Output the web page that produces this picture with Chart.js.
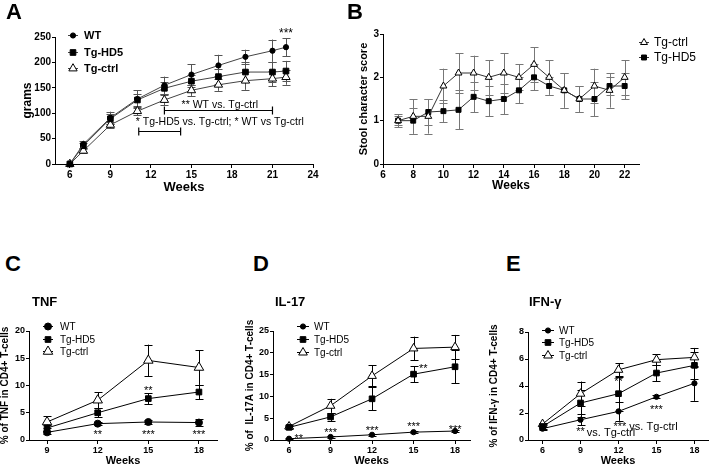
<!DOCTYPE html>
<html lang="en">
<head>
<meta charset="UTF-8" />
<title>Body weight, stool score and cytokines</title>
<script src="https://cdn.jsdelivr.net/npm/chart.js"></script>
<style>
  body { margin: 0; background: #fff; }
  #page { position: relative; width: 714px; height: 465px; overflow: hidden;
          font-family: 'Liberation Sans Narrow', 'Liberation Sans', Arial, sans-serif; }
  #page canvas { position: absolute; }
  .tag { position: absolute; font-weight: bold; line-height: 1; color: #000; white-space: nowrap; }
  .letter { font-size: 22px; }
  .name { font-size: 13px; }
</style>
</head>
<body>
<div id="page">
  <canvas id="chartA" width="360" height="200" style="left:0;top:0"></canvas>
  <canvas id="chartB" width="358" height="200" style="left:356px;top:0"></canvas>
  <canvas id="chartC" width="238" height="180" style="left:0;top:290px"></canvas>
  <canvas id="chartD" width="238" height="180" style="left:238px;top:290px"></canvas>
  <canvas id="chartE" width="238" height="180" style="left:476px;top:290px"></canvas>
  <div class="tag letter" style="left:6px;top:1px">A</div>
  <div class="tag letter" style="left:347px;top:1px">B</div>
  <div class="tag letter" style="left:5px;top:253px">C</div>
  <div class="tag letter" style="left:253px;top:253px">D</div>
  <div class="tag letter" style="left:506px;top:253px">E</div>
  <div class="tag name" style="left:32px;top:295px">TNF</div>
  <div class="tag name" style="left:275px;top:295px">IL-17</div>
  <div class="tag name" style="left:529px;top:295px">IFN-γ</div>
</div>

<script>
  // ---- A: body weight (grams) ----
  const weeksA = [6, 7, 9, 11, 13, 15, 17, 19, 21, 22];
  const wtA = [0, 39, 91, 128, 155, 176, 194, 211, 223, 230];
  const wtAErr = [0, 7, 12, 17, 17, 20, 21, 14, 22, 18];
  const hd5A = [0, 36, 89, 126, 149, 163, 172, 181, 181, 183];
  const hd5AErr = [0, 6, 10, 12, 12, 12, 15, 20, 20, 20];
  const ctrlA = [0, 26, 77, 104, 126, 145, 156, 164, 168, 171];
  const ctrlAErr = [0, 5, 6, 8, 10, 11, 12, 18, 15, 15];
  const xTicksA = [6, 9, 12, 15, 18, 21, 24];
  const yTicksA = [0, 50, 100, 150, 200, 250];

  // ---- B: stool character score ----
  const weeksB = [7, 8, 9, 10, 11, 12, 13, 14, 15, 16, 17, 18, 19, 20, 21, 22];
  const ctrlB = [1.0, 1.1, 1.1, 1.8, 2.1, 2.1, 2.0, 2.1, 2.0, 2.3, 2.0, 1.7, 1.5, 1.8, 1.7, 2.0];
  const ctrlBErr = [0.15, 0.4, 0.4, 0.4, 0.45, 0.4, 0.4, 0.45, 0.3, 0.4, 0.4, 0.4, 0.3, 0.4, 0.4, 0.4];
  const hd5B = [1.0, 1.0, 1.2, 1.22, 1.25, 1.55, 1.45, 1.5, 1.7, 2.0, 1.8, 1.7, 1.5, 1.5, 1.8, 1.8];
  const hd5BErr = [0.1, 0.3, 0.3, 0.25, 0.45, 0.35, 0.35, 0.35, 0.3, 0.3, 0.2, 0.4, 0.3, 0.4, 0.2, 0.3];
  const xTicksB = [6, 8, 10, 12, 14, 16, 18, 20, 22];
  const yTicksB = [0, 1, 2, 3];

  // ---- C: TNF ----
  const weeksC = [9, 12, 15, 18];
  const wtC = [1.4, 3.0, 3.3, 3.2];
  const wtCErr = [0.3, 0.3, 0.3, 0.6];
  const hd5C = [2.2, 5.0, 7.6, 8.8];
  const hd5CErr = [0.5, 0.8, 1.0, 1.3];
  const ctrlC = [3.3, 7.3, 14.6, 13.3];
  const ctrlCErr = [1.1, 1.5, 2.9, 3.2];
  const xTicksC = [9, 12, 15, 18];
  const yTicksC = [0, 5, 10, 15, 20];

  // ---- D: IL-17 ----
  const weeksD = [6, 9, 12, 15, 18];
  const wtD = [0.3, 0.7, 1.2, 1.8, 2.05];
  const wtDErr = [0.1, 0.2, 0.2, 0.2, 0.2];
  const hd5D = [2.9, 5.3, 9.45, 15.1, 16.8];
  const hd5DErr = [0.3, 1.0, 2.6, 1.8, 3.8];
  const ctrlD = [3.1, 7.85, 14.7, 21.0, 21.3];
  const ctrlDErr = [0.3, 1.6, 2.4, 2.7, 2.8];
  const xTicksD = [6, 9, 12, 15, 18];
  const yTicksD = [0, 5, 10, 15, 20, 25];

  // ---- E: IFN-gamma ----
  const weeksE = [6, 9, 12, 15, 18];
  const wtE = [0.84, 1.5, 2.12, 3.2, 4.2];
  const wtEErr = [0.1, 0.4, 0.7, 0.1, 1.3];
  const hd5E = [1.0, 2.74, 3.43, 4.96, 5.53];
  const hd5EErr = [0.15, 1.0, 1.3, 0.6, 1.0];
  const ctrlE = [1.18, 3.43, 5.2, 5.95, 6.12];
  const ctrlEErr = [0.1, 0.9, 0.5, 0.4, 0.7];
  const xTicksE = [6, 9, 12, 15, 18];
  const yTicksE = [0, 2, 4, 6, 8];

  const FONT = "'Liberation Sans Narrow', 'Liberation Sans', Arial, sans-serif";
  Chart.defaults.font.family = FONT;
  Chart.defaults.color = '#000';
  Chart.defaults.animation = false;

  // error bars drawn under the markers
  const errorBars = {
    id: 'errorBars',
    beforeDatasetsDraw(chart) {
      const ctx = chart.ctx;
      const y = chart.scales.y;
      chart.data.datasets.forEach((ds, i) => {
        if (!ds.errors) return;
        const meta = chart.getDatasetMeta(i);
        ctx.save();
        ctx.strokeStyle = ds.errorColor || '#000';
        ctx.lineWidth = 1;
        meta.data.forEach((pt, j) => {
          const e = ds.errors[j];
          if (!e) return;
          const v = ds.data[j].y;
          const px = Math.round(pt.x) + 0.5;
          const top = y.getPixelForValue(v + e);
          const bot = y.getPixelForValue(v - e);
          const w = ds.capWidth || 4;
          ctx.beginPath();
          ctx.moveTo(px, top); ctx.lineTo(px, bot);
          ctx.moveTo(px - w, Math.round(top) + 0.5); ctx.lineTo(px + w, Math.round(top) + 0.5);
          ctx.moveTo(px - w, Math.round(bot) + 0.5); ctx.lineTo(px + w, Math.round(bot) + 0.5);
          ctx.stroke();
        });
        ctx.restore();
      });
    }
  };

  // significance notes and brackets, placed in data units
  const notes = {
    id: 'notes',
    afterDatasetsDraw(chart, args, opts) {
      const ctx = chart.ctx;
      const { x, y } = chart.scales;
      ctx.save();
      ctx.fillStyle = '#000';
      ctx.strokeStyle = '#000';
      ctx.lineWidth = 1.2;
      (opts.brackets || []).forEach(b => {
        const x1 = x.getPixelForValue(b.x1), x2 = x.getPixelForValue(b.x2);
        const py = Math.round(y.getPixelForValue(b.y)) + 0.5;
        ctx.beginPath();
        ctx.moveTo(x1, py); ctx.lineTo(x2, py);
        ctx.moveTo(x1, py - 4); ctx.lineTo(x1, py + 4);
        ctx.moveTo(x2, py - 4); ctx.lineTo(x2, py + 4);
        ctx.stroke();
      });
      (opts.texts || []).forEach(t => {
        ctx.font = (t.weight || 'normal') + ' ' + (t.size || 11) + 'px ' + FONT;
        ctx.textAlign = t.align || 'center';
        ctx.textBaseline = 'middle';
        ctx.fillText(t.text, x.getPixelForValue(t.x), y.getPixelForValue(t.y));
      });
      ctx.restore();
    }
  };

  // GraphPad style key: short line with marker, then label
  const key = {
    id: 'key',
    afterDraw(chart, args, opts) {
      const ctx = chart.ctx;
      ctx.save();
      chart.data.datasets.forEach((ds, i) => {
        const ry = opts.rows[i];
        ctx.strokeStyle = ds.borderColor;
        ctx.lineWidth = 1;
        ctx.beginPath();
        ctx.moveTo(opts.x1, ry + 0.5); ctx.lineTo(opts.x2, ry + 0.5);
        ctx.stroke();
        ctx.fillStyle = ds.pointBackgroundColor;
        ctx.strokeStyle = ds.pointBorderColor;
        Chart.helpers.drawPoint(ctx, { pointStyle: ds.pointStyle, radius: ds.pointRadius, borderWidth: 1, rotation: 0 },
          (opts.x1 + opts.x2) / 2, ry + 0.5);
        ctx.fillStyle = '#000';
        ctx.font = (opts.weight || 'normal') + ' ' + opts.size + 'px ' + FONT;
        ctx.textAlign = 'left';
        ctx.textBaseline = 'middle';
        ctx.fillText(ds.label, opts.tx, ry + 1);
      });
      ctx.restore();
    }
  };

  function fixedTicks(values) {
    return scale => { scale.ticks = values.map(v => ({ value: v })); };
  }

  function xAxis(min, max, ticks, height, title, titleSize, titlePad, tickSize) {
    return {
      type: 'linear', min, max,
      afterBuildTicks: fixedTicks(ticks),
      afterFit: s => { s.height = height; },
      grid: { drawOnChartArea: false, drawTicks: true, tickLength: 4, tickColor: '#000' },
      border: { color: '#000', width: 1 },
      ticks: { font: { size: tickSize, weight: 'bold' }, padding: 1, maxRotation: 0, autoSkip: false },
      title: { display: true, text: title, font: { size: titleSize, weight: 'bold', lineHeight: 1 },
               padding: { top: 0, bottom: titlePad } }
    };
  }

  function yAxis(min, max, ticks, width, title, titleSize, titlePad, tickSize) {
    return {
      type: 'linear', min, max,
      afterBuildTicks: fixedTicks(ticks),
      afterFit: s => { s.width = width; },
      grid: { drawOnChartArea: false, drawTicks: true, tickLength: 3, tickColor: '#000' },
      border: { color: '#000', width: 1 },
      ticks: { font: { size: tickSize, weight: 'bold' }, padding: 1, autoSkip: false },
      title: { display: true, text: title, font: { size: titleSize, weight: 'bold', lineHeight: 1 },
               padding: { top: titlePad, bottom: 0 } }
    };
  }

  function pairs(xs, ys) { return xs.map((x, i) => ({ x, y: ys[i] })); }

  function wt(xs, ys, errs, r, extra) {
    return Object.assign({ label: 'WT', data: pairs(xs, ys), errors: errs, pointStyle: 'circle', pointRadius: r,
      borderColor: '#000', pointBackgroundColor: '#000', pointBorderColor: '#000', borderWidth: 1, clip: false }, extra);
  }
  function hd5(xs, ys, errs, r, extra) {
    return Object.assign({ label: 'Tg-HD5', data: pairs(xs, ys), errors: errs, pointStyle: 'rect', pointRadius: r,
      borderColor: '#000', pointBackgroundColor: '#000', pointBorderColor: '#000', borderWidth: 1, clip: false }, extra);
  }
  function ctrl(xs, ys, errs, r, extra) {
    return Object.assign({ label: 'Tg-ctrl', data: pairs(xs, ys), errors: errs, pointStyle: 'triangle', pointRadius: r,
      borderColor: '#000', pointBackgroundColor: '#fff', pointBorderColor: '#000', borderWidth: 1, clip: false }, extra);
  }

  function panel(id, datasets, scales, padding, pluginOpts) {
    new Chart(document.getElementById(id), {
      type: 'line',
      data: { datasets },
      options: {
        responsive: false,
        layout: { padding },
        scales,
        plugins: Object.assign({ legend: { display: false }, tooltip: { enabled: false } }, pluginOpts)
      },
      plugins: [errorBars, notes, key]
    });
  }

  // A
  const gA = { borderColor: '#444', errorColor: '#555' };
  panel('chartA',
    [wt(weeksA, wtA, wtAErr, 2.6, gA), hd5(weeksA, hd5A, hd5AErr, 4, gA), ctrl(weeksA, ctrlA, ctrlAErr, 4.8, gA)],
    { x: xAxis(4.9, 24, xTicksA, 36, 'Weeks', 13, 6.5, 10),
      y: yAxis(0, 250, yTicksA, 55, 'grams', 12, 22, 10) },
    { top: 37, right: 47, left: 0, bottom: 0 },
    { key: { x1: 68, x2: 78, tx: 84, rows: [35, 52, 68], size: 11, weight: 'bold' },
      notes: {
        brackets: [{ x1: 13, x2: 21, y: 106 }, { x1: 11.1, x2: 14.2, y: 65 }],
        texts: [
          { x: 22, y: 256, text: '***', size: 12 },
          { x: 17.1, y: 116, text: '** WT vs. Tg-ctrl', size: 10.5 },
          { x: 17.1, y: 83, text: '* Tg-HD5 vs. Tg-ctrl; * WT vs Tg-ctrl', size: 10.5 }
        ] } });

  // B
  const gB = { borderColor: '#333', errorColor: '#777' };
  panel('chartB',
    [ctrl(weeksB, ctrlB, ctrlBErr, 4, gB), hd5(weeksB, hd5B, hd5BErr, 3.5, gB)],
    { x: xAxis(6, 22.95, xTicksB, 36, 'Weeks', 12, 8, 10),
      y: yAxis(0, 3, yTicksB, 27, 'Stool character score', 11, 2.5, 10) },
    { top: 34, right: 75, left: 0, bottom: 0 },
    { key: { x1: 283, x2: 293, tx: 298, rows: [42, 57], size: 12 } });

  // C
  panel('chartC',
    [wt(weeksC, wtC, wtCErr, 3.5), hd5(weeksC, hd5C, hd5CErr, 4), ctrl(weeksC, ctrlC, ctrlCErr, 5.5)],
    { x: xAxis(7.93, 19.07, xTicksC, 30, 'Weeks', 11, 3.5, 9),
      y: yAxis(0, 20, yTicksC, 29, '% of TNF in CD4+ T-cells', 10, 0.5, 9) },
    { top: 41, right: 21, left: 0, bottom: 0 },
    { key: { x1: 43, x2: 53, tx: 60, rows: [36, 49, 61], size: 10 },
      notes: { texts: [
        { x: 15, y: 9.0, text: '**', size: 11 },
        { x: 12, y: 0.9, text: '**', size: 11 },
        { x: 15, y: 0.9, text: '***', size: 11 },
        { x: 18, y: 0.9, text: '***', size: 11 }
      ] } });

  // D
  panel('chartD',
    [wt(weeksD, wtD, wtDErr, 2.6), hd5(weeksD, hd5D, hd5DErr, 4), ctrl(weeksD, ctrlD, ctrlDErr, 5)],
    { x: xAxis(4.84, 19.08, xTicksD, 30, 'Weeks', 11, 3.5, 9),
      y: yAxis(0, 25, yTicksD, 35, '% of  IL-17A in CD4+ T-cells', 10, 7, 9) },
    { top: 41, right: 6, left: 0, bottom: 0 },
    { key: { x1: 59, x2: 71, tx: 76, rows: [36, 49, 62], size: 10 },
      notes: { texts: [
        { x: 15.7, y: 16.3, text: '**', size: 11 },
        { x: 6.7, y: 0.25, text: '**', size: 11 },
        { x: 9, y: 1.6, text: '***', size: 11 },
        { x: 12, y: 2.0, text: '***', size: 11 },
        { x: 15, y: 2.9, text: '***', size: 11 },
        { x: 18, y: 2.4, text: '***', size: 11 }
      ] } });

  // E
  panel('chartE',
    [wt(weeksE, wtE, wtEErr, 2.6), hd5(weeksE, hd5E, hd5EErr, 4), ctrl(weeksE, ctrlE, ctrlEErr, 5)],
    { x: xAxis(4.85, 19.07, xTicksE, 30, 'Weeks', 11, 3.5, 9),
      y: yAxis(0, 8, yTicksE, 52, '% of IFN-γ in CD4+ T-cells', 10, 13, 9) },
    { top: 42, right: 1, left: 0, bottom: 0 },
    { key: { x1: 66, x2: 78, tx: 83, rows: [40, 52, 65], size: 10 },
      notes: { texts: [
        { x: 12, y: 4.3, text: '**', size: 11 },
        { x: 15, y: 2.24, text: '***', size: 11 },
        { x: 9, y: 0.6, text: '**', size: 11 },
        { x: 9.5, y: 0.5, text: 'vs. Tg-ctrl', size: 11, align: 'left' },
        { x: 11.6, y: 0.98, text: '*** vs. Tg-ctrl', size: 11, align: 'left' }
      ] } });
</script>
</body>
</html>
